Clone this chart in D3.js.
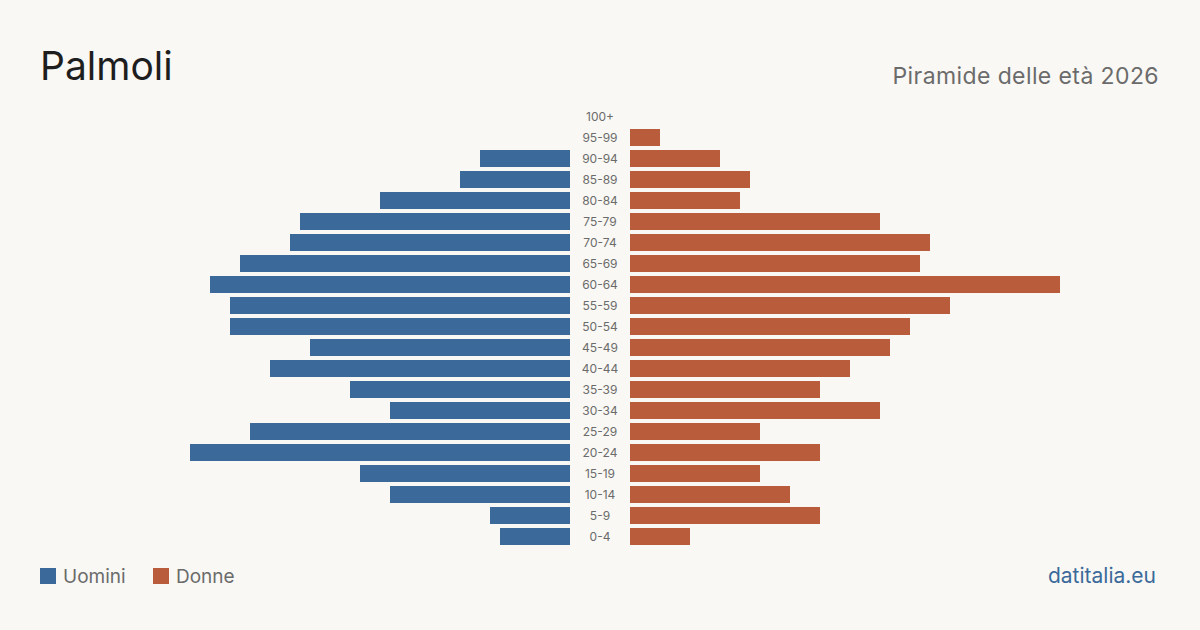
<!DOCTYPE html>
<html><head><meta charset="utf-8">
<script src="https://cdn.jsdelivr.net/npm/d3@7"></script>
<style>
html,body{margin:0;padding:0;background:#f9f8f4;}
svg{display:block;font-family:Inter, "Noto Sans", sans-serif;}
</style></head>
<body><svg id="c" width="1200" height="630"></svg>
<script>
const ageGroups = ["100+","95-99","90-94","85-89","80-84","75-79","70-74","65-69","60-64","55-59","50-54","45-49","40-44","35-39","30-34","25-29","20-24","15-19","10-14","5-9","0-4"];
const men   = [0,0,9,11,19,27,28,33,36,34,34,26,30,22,18,32,38,21,18,8,7];
const women = [0,3,9,12,11,25,30,29,43,32,28,26,22,19,25,13,19,13,16,19,6];
const seriesNames = ["Uomini","Donne"];
const colors = ["#3b6a9a","#b85c3c"];

const svg = d3.select("#c");
const y = d3.scaleBand().domain(ageGroups).range([108,545]).paddingInner(4/21).paddingOuter(0);
const xw = d3.scaleLinear().domain([0,43]).range([0,430]);
const leftEdge = 570, rightEdge = 630, center = 600;

svg.append("text").attr("x",40).attr("y",80).attr("font-size",39).attr("fill","#1e1e1e").text("Palmoli");
svg.append("text").attr("x",1159).attr("y",84).attr("text-anchor","end").attr("font-size",23).attr("letter-spacing",0.4).attr("fill","#6b6b6b").text("Piramide delle età 2026");

svg.append("g").selectAll("rect").data(ageGroups).join("rect")
  .attr("x",(d,i)=>leftEdge - xw(men[i])).attr("y",d=>y(d)).attr("width",(d,i)=>xw(men[i])).attr("height",y.bandwidth()).attr("fill",colors[0]);
svg.append("g").selectAll("rect").data(ageGroups).join("rect")
  .attr("x",rightEdge).attr("y",d=>y(d)).attr("width",(d,i)=>xw(women[i])).attr("height",y.bandwidth()).attr("fill",colors[1]);

svg.append("g").selectAll("text").data(ageGroups).join("text")
  .attr("x",center).attr("y",d=>y(d)+y.bandwidth()/2).attr("dy","0.35em").attr("text-anchor","middle")
  .attr("font-size",12).attr("fill","#6b6b6b").text(d=>d);

const lg = svg.append("g");
[0,1].forEach(i=>{
  const x0 = i===0 ? 40 : 153;
  lg.append("rect").attr("x",x0).attr("y",568).attr("width",16).attr("height",16).attr("fill",colors[i]);
  lg.append("text").attr("x",x0+23).attr("y",583).attr("font-size",19).attr("fill","#6b6b6b").text(seriesNames[i]);
});
svg.append("text").attr("x",1156).attr("y",583).attr("text-anchor","end").attr("font-size",21).attr("fill","#3b6a9a").text("datitalia.eu");
</script></body></html>
